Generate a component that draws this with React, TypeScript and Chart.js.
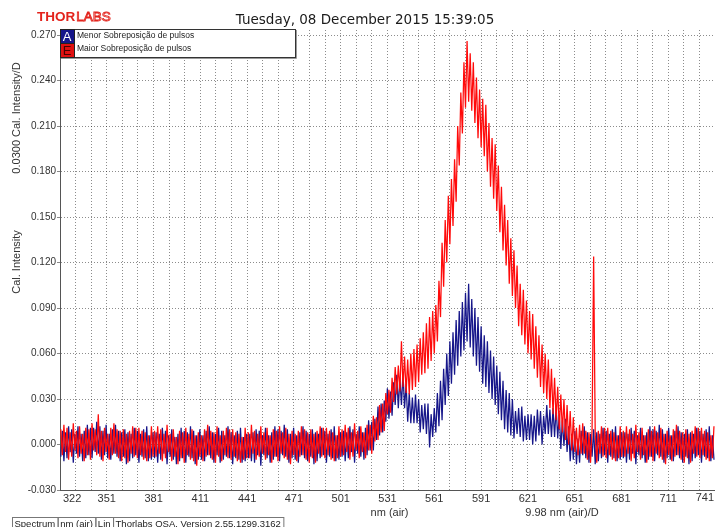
import React, { useEffect, useRef } from 'react';
import { Chart, registerables } from 'chart.js';

Chart.register(...registerables);

const titleText = 'Tuesday, 08 December 2015 15:39:05';
const seriesNames = ['Menor Sobreposição de pulsos', 'Maior Sobreposição de pulsos'];
const seriesTags = ['A', 'E'];

// wavelength of the first sample and sample spacing (nm)
const startNm = 322;
const stepNm = 1;

// Cal. Intensity in thousandths, one value per nm (322 … 740 nm), each row = 10 nm
const blueMilli = [
  -8, 9, -11, 8, -9, 12, -5, 10, -12, 7,
  -6, 12, -8, 7, -11, 9, -9, 13, -7, 11,
  -9, 11, -5, 15, -6, 12, -10, 9, -7, 13,
  -9, 7, -10, 10, -6, 13, -8, 9, -11, 8,
  -8, 10, -13, 8, -11, 7, -9, 11, -7, 9,
  -12, 7, -8, 10, -9, 12, -11, 6, -10, 8,
  -9, 8, -12, 7, -10, 11, -6, 9, -13, 6,
  -8, 10, -10, 5, -13, 7, -11, 11, -9, 9,
  -12, 8, -8, 12, -9, 9, -13, 6, -10, 10,
  -10, 6, -11, 9, -7, 12, -9, 8, -12, 7,
  -7, 11, -12, 9, -10, 6, -8, 12, -9, 8,
  -13, 6, -9, 9, -10, 11, -12, 5, -11, 7,
  -9, 7, -11, 8, -12, 10, -7, 9, -14, 6,
  -7, 11, -9, 6, -12, 8, -10, 12, -8, 10,
  -11, 9, -7, 13, -8, 10, -12, 7, -9, 11,
  -10, 6, -12, 8, -7, 12, -9, 9, -11, 7,
  -8, 10, -13, 8, -11, 7, -9, 11, -7, 9,
  -12, 7, -8, 10, -9, 12, -11, 6, -10, 8,
  -8, 9, -11, 8, -9, 12, -5, 10, -12, 7,
  -6, 12, -8, 8, -10, 11, -7, 16, -4, 15,
  -4, 17, 3, 25, 6, 27, 8, 29, 15, 37,
  17, 35, 19, 41, 26, 46, 24, 44, 26, 47,
  24, 40, 15, 34, 14, 31, 14, 33, 14, 30,
  8, 26, 10, 27, 7, 27, -2, 20, 5, 24,
  8, 34, 12, 42, 16, 50, 26, 60, 32, 68,
  40, 74, 46, 82, 52, 88, 58, 94, 62, 100,
  68, 106, 64, 96, 58, 90, 52, 84, 48, 78,
  40, 72, 38, 68, 34, 62, 30, 58, 26, 52,
  20, 48, 16, 42, 10, 36, 8, 34, 6, 30,
  4, 22, 7, 24, 5, 25, 2, 19, 3, 20,
  3, 20, 0, 19, 2, 23, 6, 22, 0, 19,
  7, 26, 7, 23, 5, 24, 5, 25, 4, 20,
  -3, 16, -1, 17, -5, 12, -11, 7, -10, 9,
  -13, 4, -12, 9, -7, 12, -9, 8, -12, 7,
  -8, 10, -13, 8, -11, 7, -9, 11, -7, 9,
  -12, 7, -8, 10, -9, 12, -11, 6, -10, 8,
  -9, 8, -12, 7, -10, 11, -6, 9, -13, 6,
  -7, 11, -9, 6, -12, 8, -10, 12, -8, 10,
  -11, 9, -7, 13, -8, 10, -12, 7, -9, 11,
  -10, 6, -11, 9, -7, 12, -9, 8, -12, 7,
  -8, 10, -13, 8, -11, 7, -9, 11, -7, 9,
  -12, 7, -8, 10, -9, 12, -11, 6, -10,
];

const redMilli = [
  10, -7, 13, -5, 11, -10, 8, -8, 14, -4,
  9, -9, 12, -6, 7, -11, 11, -7, 10, -10,
  14, -4, 10, -7, 20, -8, 9, -11, 11, -5,
  7, -10, 11, -7, 14, -6, 10, -9, 9, -11,
  10, -9, 7, -12, 9, -6, 12, -8, 11, -9,
  11, -7, 9, -10, 8, -11, 6, -9, 12, -8,
  9, -8, 12, -6, 10, -11, 7, -9, 13, -5,
  7, -11, 10, -8, 5, -13, 9, -9, 8, -12,
  11, -7, 7, -10, 10, -11, 6, -14, 8, -8,
  6, -11, 10, -8, 13, -7, 9, -10, 8, -12,
  12, -8, 6, -11, 9, -7, 11, -9, 10, -10,
  10, -8, 8, -11, 7, -12, 5, -10, 11, -9,
  8, -9, 13, -6, 9, -10, 7, -8, 12, -6,
  8, -10, 11, -7, 6, -12, 10, -8, 9, -11,
  12, -6, 8, -9, 11, -10, 7, -13, 9, -7,
  7, -11, 9, -8, 12, -7, 10, -10, 8, -12,
  10, -9, 7, -12, 9, -6, 12, -8, 11, -9,
  11, -7, 9, -10, 8, -11, 6, -9, 12, -8,
  10, -7, 13, -5, 11, -10, 8, -8, 14, -4,
  9, -9, 12, -5, 8, -9, 13, -4, 13, -6,
  19, 2, 18, 3, 26, 8, 27, 9, 34, 20,
  36, 21, 44, 28, 51, 33, 52, 35, 68, 38,
  58, 34, 56, 33, 60, 36, 63, 38, 66, 41,
  70, 46, 74, 47, 80, 50, 84, 55, 88, 60,
  92, 68, 108, 84, 133, 104, 148, 120, 164, 132,
  175, 144, 188, 160, 210, 184, 232, 205, 252, 222,
  266, 226, 258, 220, 252, 212, 242, 202, 234, 196,
  228, 190, 224, 180, 212, 170, 202, 162, 198, 154,
  184, 140, 170, 128, 158, 118, 148, 106, 136, 98,
  128, 90, 118, 78, 106, 72, 102, 66, 95, 60,
  88, 56, 86, 50, 78, 44, 72, 38, 66, 34,
  60, 30, 56, 24, 50, 20, 44, 16, 38, 10,
  33, 8, 30, 3, 26, 0, 22, -4, 18, -5,
  11, -7, 13, -6, 14, -6, 9, -10, 8, -12,
  10, 124, 7, -12, 9, -6, 12, -8, 11, -9,
  11, -7, 9, -10, 8, -11, 6, -9, 12, -8,
  9, -8, 12, -6, 10, -11, 7, -9, 13, -5,
  8, -10, 11, -7, 6, -12, 10, -8, 9, -11,
  12, -6, 8, -9, 11, -10, 7, -13, 9, -7,
  6, -11, 10, -8, 13, -7, 9, -10, 8, -12,
  10, -9, 7, -12, 9, -6, 12, -8, 11, -9,
  11, -7, 9, -10, 8, -11, 6, -9, 12,
];

// x grid: 42 divisions of 9.98 nm from 321.5 nm
const xGridStart = 321.5;
const xGridStep = 9.98;
const xGridCount = 42;
const xLabelEvery = 3;
const xTickLabels = ['322', '351', '381', '411', '441', '471', '501', '531', '561', '591', '621', '651', '681', '711', '741'];

const yTickValues = [-0.03, 0, 0.03, 0.06, 0.09, 0.12, 0.15, 0.18, 0.21, 0.24, 0.27];
const yMin = -0.03;
const yMax = 0.2733;

const xTitle = 'nm (air)';
const xDivTitle = '9.98 nm (air)/D';
const yTitle = 'Cal. Intensity';
const yDivTitle = '0.0300 Cal. Intensity/D';
const statusCells = ['Spectrum', 'nm (air)', 'Lin', 'Thorlabs OSA, Version 2.55.1299.3162'];

const BLUE = '#16168a';
const RED = '#ff0a0a';
const SANS = '"Liberation Sans", Arial, sans-serif';

const decorPlugin = {
  id: 'decor',
  beforeDraw(chart: any) {
    const ctx = chart.ctx;
    ctx.save();
    ctx.fillStyle = '#ffffff';
    ctx.fillRect(0, 0, chart.width, chart.height);
    ctx.restore();
  },
  afterDraw(chart: any) {
    const { ctx, chartArea: a } = chart;
    const xs = chart.scales.x;
    ctx.save();

    // title
    ctx.fillStyle = '#1a1a1a';
    ctx.font = '13.5px "DejaVu Sans", Verdana, sans-serif';
    ctx.textAlign = 'center';
    ctx.textBaseline = 'alphabetic';
    ctx.fillText(titleText, 365, 24);

    // logo
    ctx.textAlign = 'left';
    ctx.font = 'bold 13.5px ' + SANS;
    ctx.fillStyle = '#e3231c';
    ctx.fillText('THOR', 37, 21);
    const tw = ctx.measureText('THOR').width;
    ctx.font = '13.5px ' + SANS;
    ctx.strokeStyle = '#e3231c';
    ctx.lineWidth = 0.9;
    ctx.strokeText('LABS', 38 + tw, 21);

    // legend box
    const lx = a.left, ly = 29, lw = 235, lh = 28;
    ctx.fillStyle = '#ffffff';
    ctx.fillRect(lx, ly, lw, lh);
    ctx.strokeStyle = '#9a9a9a';
    ctx.lineWidth = 1;
    ctx.beginPath();
    ctx.moveTo(lx + lw + 1.5, ly + 1);
    ctx.lineTo(lx + lw + 1.5, ly + lh + 1.5);
    ctx.lineTo(lx + 1, ly + lh + 1.5);
    ctx.stroke();
    ctx.strokeStyle = '#333333';
    ctx.strokeRect(lx + 0.5, ly + 0.5, lw, lh);
    const sq = 14;
    ctx.fillStyle = BLUE;
    ctx.fillRect(lx, ly, sq, sq);
    ctx.fillStyle = '#e01010';
    ctx.fillRect(lx, ly + sq, sq, sq);
    ctx.strokeStyle = '#222';
    ctx.strokeRect(lx + 0.5, ly + 0.5, sq, sq);
    ctx.strokeRect(lx + 0.5, ly + sq + 0.5, sq, sq);
    ctx.font = '13px ' + SANS;
    ctx.textAlign = 'center';
    ctx.textBaseline = 'middle';
    ctx.fillStyle = '#ffffff';
    ctx.fillText(seriesTags[0], lx + sq / 2, ly + sq / 2 + 1);
    ctx.fillStyle = '#4a0000';
    ctx.fillText(seriesTags[1], lx + sq / 2, ly + sq + sq / 2 + 1);
    ctx.font = '8.5px ' + SANS;
    ctx.textAlign = 'left';
    ctx.fillStyle = '#222';
    ctx.fillText(seriesNames[0], lx + 17, ly + 7);
    ctx.fillText(seriesNames[1], lx + 17, ly + 20);

    // y titles
    ctx.fillStyle = '#333';
    ctx.font = '11px ' + SANS;
    ctx.textAlign = 'center';
    ctx.textBaseline = 'middle';
    ctx.save();
    ctx.translate(17, 118);
    ctx.rotate(-Math.PI / 2);
    ctx.fillText(yDivTitle, 0, 0);
    ctx.restore();
    ctx.save();
    ctx.translate(17, (a.top + a.bottom) / 2 + 2);
    ctx.rotate(-Math.PI / 2);
    ctx.fillText(yTitle, 0, 0);
    ctx.restore();

    // x tick labels
    ctx.font = '11px ' + SANS;
    ctx.fillStyle = '#333';
    ctx.textBaseline = 'middle';
    xTickLabels.forEach((lab, i) => {
      const v = xGridStart + i * xLabelEvery * xGridStep;
      const px = xs.getPixelForValue(v);
      if (i === 0) {
        ctx.textAlign = 'left';
        ctx.fillText(lab, px + 3, a.bottom + 9);
      } else if (i === xTickLabels.length - 1) {
        ctx.textAlign = 'right';
        ctx.fillText(lab, a.right - 1, a.bottom + 8);
      } else {
        ctx.textAlign = 'center';
        ctx.fillText(lab, px, a.bottom + 9);
      }
    });
    ctx.textAlign = 'center';
    ctx.fillText(xTitle, (a.left + a.right) / 2 + 2, a.bottom + 23);
    ctx.fillText(xDivTitle, 562, a.bottom + 23);

    // status bar
    ctx.font = '9.5px ' + SANS;
    ctx.textAlign = 'left';
    ctx.textBaseline = 'alphabetic';
    let cx = 12;
    const top = 517;
    ctx.strokeStyle = '#777';
    ctx.lineWidth = 1;
    statusCells.forEach((c) => {
      const w = ctx.measureText(c).width + 5;
      ctx.strokeRect(cx + 0.5, top + 0.5, w, 14);
      ctx.fillStyle = '#222';
      ctx.fillText(c, cx + 2.5, top + 10);
      cx += w;
    });

    ctx.restore();
  },
};

export default function App() {
  const ref = useRef<HTMLCanvasElement>(null);

  useEffect(() => {
    document.body.style.margin = '0';
    const canvas = ref.current;
    if (!canvas) return;

    const bluePts = blueMilli.map((v, i) => ({ x: startNm + i * stepNm, y: v / 1000 }));
    const redPts = redMilli.map((v, i) => ({ x: startNm + i * stepNm, y: v / 1000 }));
    const xMax = xGridStart + xGridCount * xGridStep;

    const chart = new Chart(canvas, {
      type: 'line',
      data: {
        datasets: [
          {
            label: seriesNames[1],
            data: redPts,
            borderColor: RED,
            borderWidth: 1.25,
            pointRadius: 0,
            tension: 0,
          },
          {
            label: seriesNames[0],
            data: bluePts,
            borderColor: BLUE,
            borderWidth: 1.25,
            pointRadius: 0,
            tension: 0,
          },
        ],
      },
      options: {
        responsive: false,
        animation: false,
        events: [],
        layout: { padding: { top: 30, left: 0, right: 0, bottom: 0 } },
        plugins: {
          legend: { display: false },
          tooltip: { enabled: false },
          title: { display: false },
        },
        scales: {
          x: {
            type: 'linear',
            min: xGridStart,
            max: xMax,
            afterBuildTicks: (scale: any) => {
              const t = [];
              for (let i = 0; i <= xGridCount; i++) t.push({ value: xGridStart + i * xGridStep });
              scale.ticks = t;
            },
            afterFit: (scale: any) => {
              scale.height = 37;
            },
            ticks: { display: false },
            grid: {
              color: 'rgba(0,0,0,0.45)',
              lineWidth: 1,
              drawTicks: false,
            },
            border: { display: true, color: '#555', width: 1, dash: [1, 2] },
          },
          y: {
            type: 'linear',
            min: yMin,
            max: yMax,
            afterBuildTicks: (scale: any) => {
              scale.ticks = yTickValues.map((v) => ({ value: v }));
            },
            afterFit: (scale: any) => {
              scale.width = 60;
            },
            ticks: {
              color: '#333',
              font: { family: SANS, size: 10 },
              padding: 1,
              callback: (v: any) => Number(v).toFixed(3),
            },
            grid: {
              color: 'rgba(0,0,0,0.45)',
              lineWidth: 1,
              tickLength: 3,
              tickColor: '#888',
            },
            border: { display: true, color: '#555', width: 1, dash: [1, 2] },
          },
        },
      },
      plugins: [decorPlugin],
    });

    return () => chart.destroy();
  }, []);

  return (
    <div style={{ width: 715, height: 527 }}>
      <canvas ref={ref} width={715} height={527} style={{ display: 'block' }} />
    </div>
  );
}
